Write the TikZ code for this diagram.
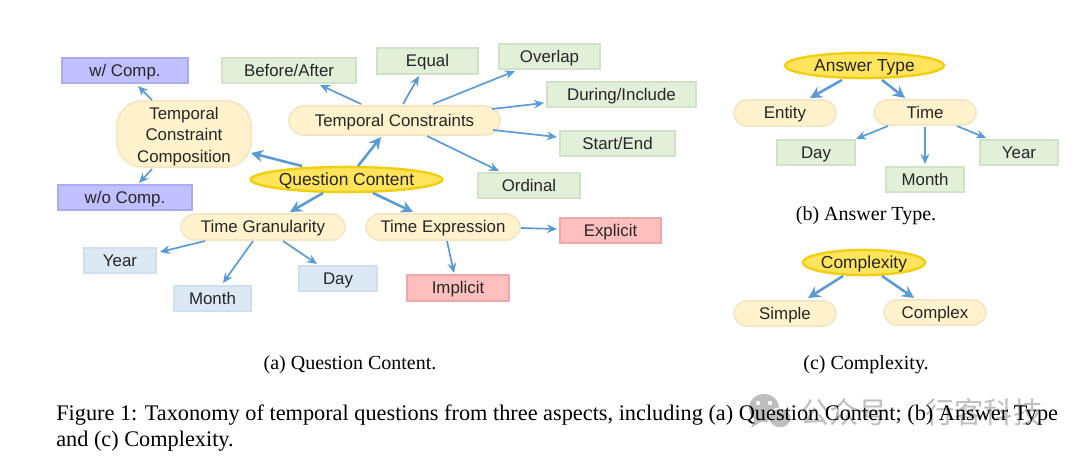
\documentclass[tikz,border=0pt]{standalone}
\usepackage{fontspec}
\setmainfont{Liberation Serif}
\setsansfont{Liberation Sans}
\newfontfamily\cjkwm{Noto Sans CJK SC}
\usetikzlibrary{arrows.meta,shapes.geometric}
\definecolor{rootfill}{HTML}{FFE45C}\definecolor{rootline}{HTML}{F2CE10}
\definecolor{creamfill}{HTML}{FFF2CC}\definecolor{creamline}{HTML}{F3E7C6}
\definecolor{greenfill}{HTML}{E2F0D9}\definecolor{greenline}{HTML}{D2E2C8}
\definecolor{bluefill}{HTML}{DCE9F5}\definecolor{blueline}{HTML}{CEDFEF}
\definecolor{purplefill}{HTML}{C0C0FF}\definecolor{purpleline}{HTML}{ABABEF}
\definecolor{redfill}{HTML}{FFBFBF}\definecolor{redline}{HTML}{EDA9A9}
\definecolor{arrowblue}{HTML}{5B9BD5}
\definecolor{wmgray}{HTML}{BEBEBE}
\tikzset{
  x=0.75pt,y=-0.75pt,
  lab/.style={font=\sffamily\fontsize{12.65}{16}\selectfont,text=black!85,inner sep=0pt,line width=1.4pt,align=center,text height=11pt,text depth=2.1pt},
  dims/.style 2 args={minimum width=#1*0.75pt-1.4pt,minimum height=#2*0.75pt-1.4pt},
  rootnode/.style={lab,font=\sffamily\fontsize{13.05}{16}\selectfont,ellipse,line width=1.8pt,draw=rootline,fill=rootfill},
  cream/.style={lab,rectangle,rounded corners=10pt,draw=creamline,fill=creamfill},
  greenbox/.style={lab,rectangle,draw=greenline,fill=greenfill},
  bluebox/.style={lab,rectangle,draw=blueline,fill=bluefill},
  purplebox/.style={lab,rectangle,draw=purpleline,fill=purplefill},
  redbox/.style={lab,rectangle,draw=redline,fill=redfill},
  thickarrow/.style={draw=arrowblue,line width=1.9pt,-{Stealth[length=9pt,width=9pt]}},
  thinarrow/.style={draw=arrowblue,line width=1.25pt,-{Stealth[length=7.5pt,width=6.5pt]}},
  caption/.style={font=\fontsize{15}{18}\selectfont,text=black,inner sep=0pt,anchor=base},
  bodytext/.style={font=\fontsize{16.72}{20}\selectfont,text=black,inner sep=0pt,anchor=base west},
  wmark/.style={font=\cjkwm\fontsize{22}{25}\selectfont,text=wmgray,inner sep=0pt}
}
\newcommand\conn[7]{\draw[#1] ([shift={(#3,#4)}]#2.center) -- ([shift={(#6,#7)}]#5.center);}
\begin{document}
\begin{tikzpicture}
\useasboundingbox[fill=white] (0,0) rectangle (1080,456);
% watermark
\fill[wmgray] (764,408) ellipse [x radius=15,y radius=14];
\fill[wmgray] (755,418) -- (751,428) -- (764,420) -- cycle;
\fill[white] (758,403) circle [radius=2.2] (770,403) circle [radius=2.2];
\fill[wmgray,draw=white,line width=1pt] (780,418) ellipse [x radius=11.5,y radius=10];
\node[wmark,anchor=west] (wm1) at (800,412) {公众号};
\node[wmark,anchor=west] (wm2) at (925,412) {行客科技};
% panel (a)
\node[purplebox,dims={128}{27}] (wc) at (125,70.5) {w/ Comp.};
\node[purplebox,dims={136}{27}] (woc) at (125,197.5) {w/o Comp.};
\node[greenbox,dims={136}{27}] (ba) at (289,70.5) {Before/After};
\node[greenbox,dims={103}{28}] (eq) at (427.5,61) {Equal};
\node[greenbox,dims={103}{27}] (ov) at (549.5,56.5) {Overlap};
\node[greenbox,dims={151}{27}] (di) at (621.5,94.5) {During/Include};
\node[greenbox,dims={117}{27}] (se) at (617.5,143.5) {Start/End};
\node[greenbox,dims={104}{27}] (od) at (529,185.5) {Ordinal};
\node[redbox,dims={103}{27}] (ex) at (610.5,230.5) {Explicit};
\node[redbox,dims={104}{28}] (im) at (458,288) {Implicit};
\node[bluebox,dims={74}{27}] (yr) at (120,260.5) {Year};
\node[bluebox,dims={79}{27}] (mo) at (212.5,298.5) {Month};
\node[bluebox,dims={80}{27}] (dy) at (338,278.5) {Day};
\node[cream,rounded corners=19pt,text height=,text depth=,dims={136}{68}] (tcc) at (184,134) {\rule{0pt}{13pt}Temporal\\Constraint\\Composition};
\node[cream,rounded corners=11.5pt,dims={213}{31}] (tc) at (394.5,120.5) {Temporal Constraints};
\node[rootnode,dims={191}{27}] (qc) at (346.5,179.5) {Question Content};
\node[cream,rounded corners=10.5pt,dims={166}{28}] (tg) at (263,227) {Time Granularity};
\node[cream,rounded corners=10.5pt,dims={156}{28}] (te) at (443,227) {Time Expression};
% panel (b)
\node[rootnode,dims={161}{27}] (at) at (864.5,65.5) {Answer Type};
\node[cream,dims={104}{28}] (en) at (785,113) {Entity};
\node[cream,dims={104}{27}] (ti) at (925,112.5) {Time};
\node[greenbox,dims={80}{27}] (dt) at (816,152.5) {Day};
\node[greenbox,dims={80}{27}] (mt) at (925,179.5) {Month};
\node[greenbox,dims={80}{27}] (yt) at (1019,152.5) {Year};
% panel (c)
\node[rootnode,dims={124}{27}] (cx) at (864,262.5) {Complexity};
\node[cream,dims={104}{27}] (si) at (785,313.5) {Simple};
\node[cream,dims={104}{27}] (co) at (935,312.5) {Complex};
% connectors (a)
\conn{thickarrow}{qc}{-44.5}{-13.5}{tcc}{67}{19}
\conn{thinarrow}{tcc}{-32}{-34}{wc}{13}{15.5}
\conn{thinarrow}{tcc}{-32}{35}{woc}{14}{-14.5}
\conn{thickarrow}{qc}{11.5}{-13.5}{tc}{-13.5}{16.5}
\conn{thinarrow}{tc}{-33.5}{-16.5}{ba}{31}{14.5}
\conn{thinarrow}{tc}{8.5}{-16.5}{eq}{-8.5}{15}
\conn{thinarrow}{tc}{38.5}{-16.5}{ov}{-34.5}{14.5}
\conn{thinarrow}{tc}{97.5}{-11.5}{di}{-77.5}{8.5}
\conn{thinarrow}{tc}{98.5}{9.5}{se}{-60.5}{-6.5}
\conn{thinarrow}{tc}{32.5}{15.5}{od}{-30}{-14.5}
\conn{thickarrow}{qc}{-23.5}{13.5}{tg}{27}{-15}
\conn{thickarrow}{qc}{26.5}{13.5}{te}{-30}{-15}
\conn{thinarrow}{tg}{-58}{14}{yr}{40}{-8.5}
\conn{thinarrow}{tg}{-10}{14}{mo}{10.5}{-15.5}
\conn{thinarrow}{tg}{20}{14}{dy}{-21}{-14.5}
\conn{thinarrow}{te}{4}{14}{im}{-4}{-15}
\conn{thinarrow}{te}{78}{1}{ex}{-53.5}{-1.5}
% connectors (b)
\conn{thickarrow}{at}{-22.5}{14.5}{en}{25}{-15}
\conn{thickarrow}{at}{17.5}{14.5}{ti}{-20}{-14.5}
\conn{thinarrow}{ti}{-37}{13.5}{dt}{40}{-13.5}
\conn{thinarrow}{ti}{0}{14.5}{mt}{0}{-15.5}
\conn{thinarrow}{ti}{32}{13.5}{yt}{-33}{-14.5}
% connectors (c)
\conn{thickarrow}{cx}{-21}{13.5}{si}{23}{-15.5}
\conn{thickarrow}{cx}{18}{13.5}{co}{-21}{-14.5}
% captions
\node[caption] (capa) at (350,369) {(a) Question Content.};
\node[caption] (capb) at (866,220.5) {(b) Answer Type.};
\node[caption] (capc) at (866,369) {(c) Complexity.};
\node[bodytext] (fig1) at (56,420) {Figure 1: Taxonomy of temporal questions from three aspects, including (a) Question Content; (b) Answer Type};
\node[bodytext] (fig2) at (56,446) {and (c) Complexity.};
\end{tikzpicture}
\end{document}
